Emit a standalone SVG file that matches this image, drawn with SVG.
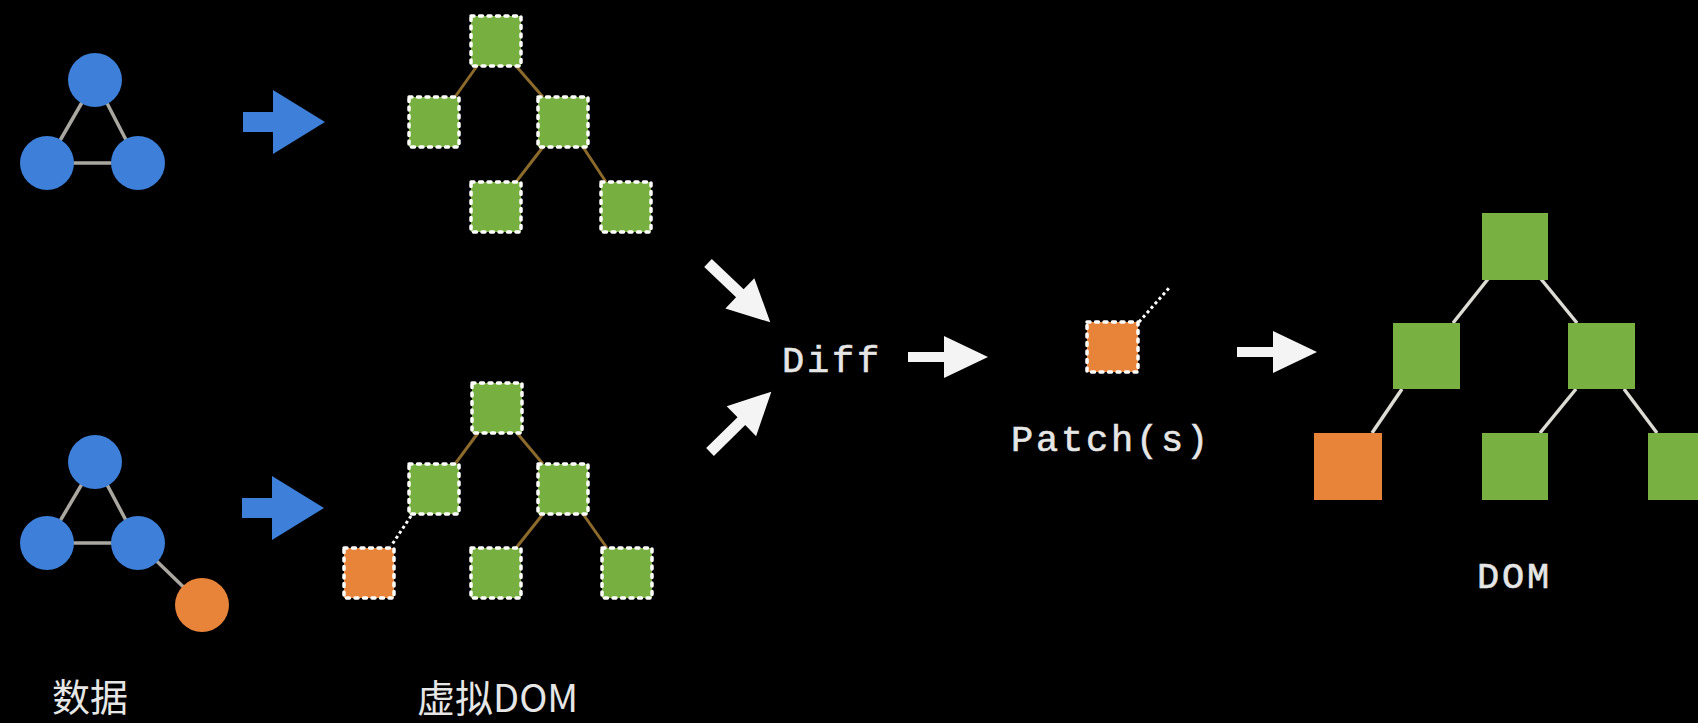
<svg xmlns="http://www.w3.org/2000/svg" xmlns:xlink="http://www.w3.org/1999/xlink" width="1698" height="723" viewBox="0 0 1698 723">
<style>
.bg{fill:#000}
.blue{fill:#3d7fd9}
.org{fill:#e8843a}
.vnode{fill:#77af41;stroke:#fff;stroke-width:3.5;stroke-dasharray:3 5.5;stroke-linecap:round}
.vorg{fill:#e8843a;stroke:#fff;stroke-width:3.5;stroke-dasharray:3 5.5;stroke-linecap:round}
.dnode{fill:#78b042}
.dorg{fill:#e8843a}
.gline{stroke:#a9a79f;stroke-width:3.5}
.bline{stroke:#8c6a2c;stroke-width:3}
.wline{stroke:#dcdcd4;stroke-width:3.5}
.dot{stroke:#fff;stroke-width:3;stroke-dasharray:3 3}
.warrow{fill:#f4f4f4}
.mono{font-family:"Liberation Mono","DejaVu Sans Mono",monospace;fill:#e6e6e6;font-size:37px;letter-spacing:2.8px;stroke:#e6e6e6;stroke-width:0.6}
.cjk{font-family:"Noto Sans CJK SC","Noto Sans",sans-serif;fill:#e6e6e6;font-size:38px}
</style>
<defs>
<path id="barrow" d="M0,-10 L30,-10 L30,-32 L82,0 L30,32 L30,10 L0,10 Z"/>
<path id="warr" d="M0,-5 L36,-5 L36,-21 L80,0 L36,21 L36,5 L0,5 Z"/>
<path id="warrd" d="M0,-5.5 L44,-5.5 L44,-21 L86,0 L44,21 L44,5.5 L0,5.5 Z"/>
</defs>
<rect class="bg" x="0" y="0" width="1698" height="723"/>
<g id="connectors">
  <line class="gline" x1="95" y1="80" x2="47" y2="163"/>
  <line class="gline" x1="95" y1="80" x2="138" y2="163"/>
  <line class="gline" x1="47" y1="163" x2="138" y2="163"/>
  <line class="gline" x1="95" y1="462" x2="47" y2="543"/>
  <line class="gline" x1="95" y1="462" x2="138" y2="543"/>
  <line class="gline" x1="47" y1="543" x2="138" y2="543"/>
  <line class="gline" x1="138" y1="543" x2="202" y2="605"/>
  <line class="bline" x1="477" y1="66" x2="455" y2="97"/>
  <line class="bline" x1="516" y1="66" x2="543" y2="97"/>
  <line class="bline" x1="543" y1="147" x2="516" y2="182"/>
  <line class="bline" x1="583" y1="147" x2="606" y2="182"/>
  <line class="bline" x1="478" y1="433" x2="455" y2="464"/>
  <line class="bline" x1="517" y1="433" x2="543" y2="464"/>
  <line class="bline" x1="543" y1="514" x2="516" y2="548"/>
  <line class="bline" x1="583" y1="514" x2="607" y2="548"/>
  <line class="dot" x1="411" y1="516" x2="391" y2="546"/>
  <line class="dot" x1="1139" y1="322" x2="1170" y2="287"/>
  <line class="wline" x1="1488" y1="279" x2="1453" y2="323"/>
  <line class="wline" x1="1541" y1="279" x2="1577" y2="323"/>
  <line class="wline" x1="1402" y1="389" x2="1372" y2="433"/>
  <line class="wline" x1="1576" y1="389" x2="1540" y2="433"/>
  <line class="wline" x1="1624" y1="389" x2="1657" y2="433"/>
  <use href="#barrow" class="blue" transform="translate(243,122)"/>
  <use href="#barrow" class="blue" transform="translate(242,508)"/>
  <use href="#warrd" class="warrow" transform="translate(708,263) rotate(43.6)"/>
  <use href="#warrd" class="warrow" transform="translate(710,452) rotate(-44.5)"/>
  <use href="#warr" class="warrow" transform="translate(908,357)"/>
  <use href="#warr" class="warrow" transform="translate(1237,352)"/>
</g>
<g id="data-top">
  <circle class="blue" cx="95" cy="80" r="27"/>
  <circle class="blue" cx="47" cy="163" r="27"/>
  <circle class="blue" cx="138" cy="163" r="27"/>
</g>
<g id="data-bottom">
  <circle class="blue" cx="95" cy="462" r="27"/>
  <circle class="blue" cx="47" cy="543" r="27"/>
  <circle class="blue" cx="138" cy="543" r="27"/>
  <circle class="org" cx="202" cy="605" r="27"/>
</g>
<g id="vdom-top">
  <rect class="vnode" x="471" y="16" width="50" height="50"/>
  <rect class="vnode" x="409" y="97" width="50" height="50"/>
  <rect class="vnode" x="538" y="97" width="50" height="50"/>
  <rect class="vnode" x="471" y="182" width="50" height="50"/>
  <rect class="vnode" x="601" y="182" width="50" height="50"/>
</g>
<g id="vdom-bottom">
  <rect class="vnode" x="472" y="383" width="50" height="50"/>
  <rect class="vnode" x="409" y="464" width="50" height="50"/>
  <rect class="vnode" x="538" y="464" width="50" height="50"/>
  <rect class="vorg" x="344" y="548" width="50" height="50"/>
  <rect class="vnode" x="471" y="548" width="50" height="50"/>
  <rect class="vnode" x="602" y="548" width="50" height="50"/>
</g>
<g id="diff">
  <text class="mono" x="782" y="372">Diff</text>
</g>
<g id="patch">
  <rect class="vorg" x="1087" y="322" width="51" height="50"/>
  <text class="mono" x="1011" y="451">Patch(s)</text>
</g>
<g id="dom">
  <rect class="dnode" x="1482" y="213" width="66" height="67"/>
  <rect class="dnode" x="1393" y="323" width="67" height="66"/>
  <rect class="dnode" x="1568" y="323" width="67" height="66"/>
  <rect class="dorg" x="1314" y="433" width="68" height="67"/>
  <rect class="dnode" x="1482" y="433" width="66" height="67"/>
  <rect class="dnode" x="1648" y="433" width="67" height="67"/>
  <text class="mono" x="1477" y="588">DOM</text>
</g>
<g id="labels">
  <text class="cjk" x="52" y="711">数据</text>
  <text class="cjk" x="417" y="712">虚拟DOM</text>
</g>
</svg>
